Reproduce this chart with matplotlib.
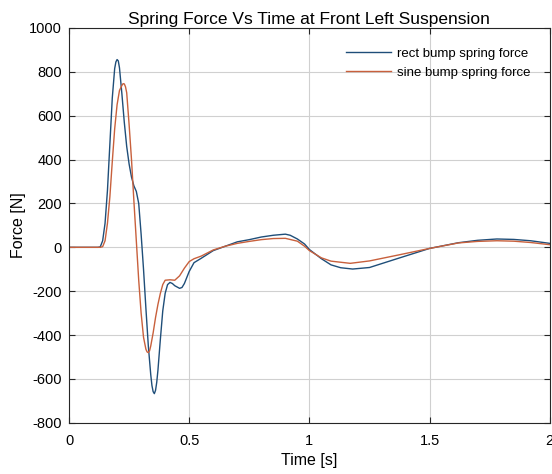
import numpy as np
import matplotlib.pyplot as plt

plt.rcParams['font.family'] = ['Liberation Sans', 'DejaVu Sans']
plt.rcParams['axes.unicode_minus'] = False

# spring force at the front left corner, rectangular bump input
t_rect = [0.00, 0.12, 0.13, 0.14, 0.15, 0.16, 0.17, 0.18, 0.19, 0.195,
          0.20, 0.205, 0.21, 0.22, 0.23, 0.24, 0.25, 0.26, 0.27, 0.28,
          0.29, 0.30, 0.31, 0.32, 0.33, 0.34, 0.345, 0.35, 0.355, 0.36,
          0.365, 0.37, 0.38, 0.39, 0.40, 0.41, 0.42, 0.43, 0.44, 0.46,
          0.47, 0.48, 0.50, 0.52, 0.55, 0.60, 0.65, 0.70, 0.75, 0.80,
          0.85, 0.90, 0.92, 0.95, 0.98, 1.00, 1.05, 1.09, 1.13, 1.18,
          1.25, 1.37, 1.50, 1.62, 1.70, 1.78, 1.85, 1.92, 2.00]
f_rect = [0, 0, 2, 30, 110, 260, 470, 680, 815, 845,
          856, 850, 818, 700, 570, 460, 380, 320, 280, 255,
          200, 60, -100, -280, -450, -580, -630, -658, -667, -652,
          -615, -560, -420, -290, -210, -170, -160, -165, -175, -187,
          -183, -165, -110, -70, -50, -15, 5, 25, 35, 47,
          55, 60, 55, 38, 15, -10, -52, -80, -93, -99,
          -92, -50, -5, 21, 32, 38, 36, 30, 18]

# same corner, sine bump input
t_sine = [0.00, 0.13, 0.14, 0.15, 0.16, 0.17, 0.18, 0.19, 0.20, 0.21,
          0.22, 0.225, 0.23, 0.235, 0.24, 0.25, 0.26, 0.27, 0.28, 0.29,
          0.30, 0.31, 0.32, 0.325, 0.33, 0.335, 0.34, 0.35, 0.36, 0.37,
          0.38, 0.39, 0.40, 0.42, 0.44, 0.46, 0.48, 0.50, 0.52, 0.55,
          0.60, 0.65, 0.70, 0.75, 0.80, 0.85, 0.90, 0.95, 0.98, 1.00,
          1.05, 1.09, 1.17, 1.25, 1.37, 1.50, 1.62, 1.70, 1.78, 1.85,
          1.92, 2.00]
f_sine = [0, 0, 3, 30, 110, 230, 390, 540, 650, 715,
          738, 746, 745, 732, 705, 560, 400, 210, 30, -150,
          -300, -410, -465, -477, -480, -472, -450, -390, -320, -260,
          -210, -170, -150, -148, -150, -130, -95, -65, -52, -40,
          -12, 5, 18, 27, 35, 40, 41, 28, 5, -15,
          -48, -63, -73, -62, -35, -5, 20, 27, 30, 28,
          22, 12]

fig = plt.figure(figsize=(5.52, 4.74), dpi=100)
ax = fig.add_axes([0.125, 0.108, 0.871, 0.833])

ax.plot(t_rect, f_rect, color='#1f4e79', lw=1.0, label='rect bump spring force')
ax.plot(t_sine, f_sine, color='#c8603c', lw=1.0, label='sine bump spring force')

ax.set_xlim(0, 2)
ax.set_ylim(-800, 1000)
ax.set_xticks([0, 0.5, 1, 1.5, 2])
ax.set_xticklabels(['0', '0.5', '1', '1.5', '2'])
ax.set_yticks(np.arange(-800, 1001, 200))

ax.grid(True, color='#d0d0d0', lw=0.8)
ax.set_axisbelow(True)
ax.tick_params(direction='in', top=True, right=True, labelsize=10.5,
               length=4, width=0.8, color='#262626')
ax.tick_params(axis='x', pad=8)
ax.tick_params(axis='y', pad=5)
for s in ax.spines.values():
    s.set_color('#262626')
    s.set_linewidth(0.8)

ax.set_title('Spring Force Vs Time at Front Left Suspension', fontsize=12.5, pad=3)
ax.set_xlabel('Time [s]', fontsize=11.5, labelpad=4)
ax.set_ylabel('Force [N]', fontsize=11.5, labelpad=2)

ax.legend(loc='upper right', frameon=False, fontsize=9.5, handlelength=3.4,
          handletextpad=0.4, borderaxespad=1.1, labelspacing=0.5)

fig.savefig('out.png', dpi=100)
